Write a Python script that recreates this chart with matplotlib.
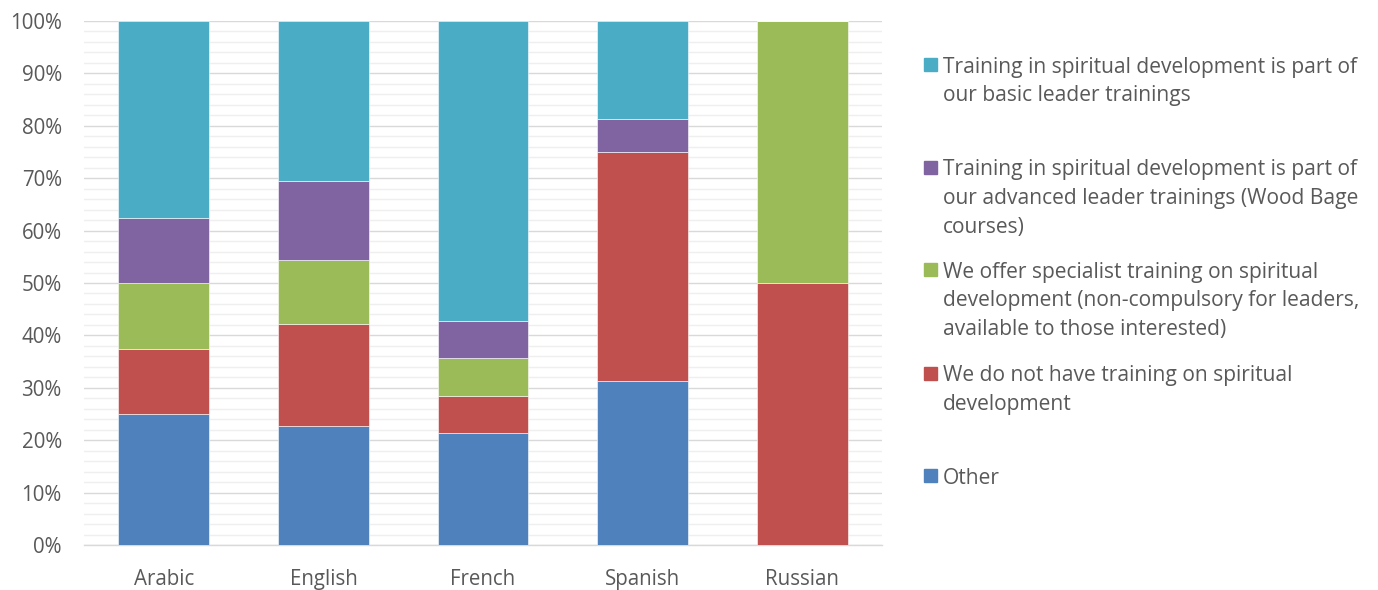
import matplotlib
matplotlib.use("Agg")
import matplotlib.pyplot as plt
from matplotlib.patches import Rectangle
import numpy as np

categories = ["Arabic", "English", "French", "Spanish", "Russian"]
series_names = [
    "Other",
    "We do not have training on spiritual\ndevelopment",
    "We offer specialist training on spiritual\ndevelopment (non-compulsory for leaders,\navailable to those interested)",
    "Training in spiritual development is part of\nour advanced leader trainings (Wood Bage\ncourses)",
    "Training in spiritual development is part of\nour basic leader trainings",
]
other = [25.0, 22.7, 21.4, 31.25, 0.0]
no_training = [12.5, 19.5, 7.1, 43.75, 50.0]
specialist = [12.5, 12.1, 7.1, 0.0, 50.0]
advanced = [12.5, 15.2, 7.2, 6.25, 0.0]
basic = [37.5, 30.5, 57.2, 18.75, 0.0]
colors = ["#4F81BD", "#C0504D", "#9BBB59", "#8064A2", "#4BACC6"]
yticks = [0, 10, 20, 30, 40, 50, 60, 70, 80, 90, 100]

FONT = ["Open Sans", "DejaVu Sans"]
TXT = "#595959"

W, H = 1378, 590
fig = plt.figure(figsize=(W / 100, H / 100), dpi=100)
ax = fig.add_axes([84 / W, 1 - 545 / H, (882 - 84) / W, (545 - 21) / H])

x = np.arange(len(categories))
series = [other, no_training, specialist, advanced, basic]
bottom = np.zeros(len(categories))
for vals, c in zip(series, colors):
    vals = np.array(vals)
    ax.bar(x, vals, bottom=bottom, width=0.57, color=c, edgecolor="white",
           linewidth=0.4, zorder=3)
    bottom += vals

ax.set_xlim(-0.5, len(categories) - 0.5)
ax.set_ylim(0, 100)
ax.set_yticks(yticks)
ax.set_yticklabels([f"{v}%" for v in yticks], fontsize=14.8, color=TXT, family=FONT)
ax.set_yticks(np.arange(0, 101, 2), minor=True)
ax.set_xticks(x)
ax.set_xticklabels(categories, fontsize=14.8, color=TXT, family=FONT)
ax.tick_params(axis="both", which="both", length=0)
ax.tick_params(axis="y", pad=16)
ax.tick_params(axis="x", pad=17.5)
ax.grid(axis="y", which="minor", color="#EFEFEF", linewidth=1.0, zorder=0)
ax.grid(axis="y", which="major", color="#D9D9D9", linewidth=1.0, zorder=1)
for s in ["top", "right", "left"]:
    ax.spines[s].set_visible(False)
ax.spines["bottom"].set_color("#D9D9D9")
ax.spines["bottom"].set_linewidth(1.0)

# Legend (Excel style: first lines evenly spaced, reversed order)
legend_top = [67, 170, 272, 376, 478]
line_h = 28.5
for i, (name, c) in enumerate(zip(series_names[::-1], colors[::-1])):
    y0 = legend_top[i]
    fig.patches.append(Rectangle((924 / W, 1 - (y0 + 4) / H), 13 / W, 13 / H,
                                 transform=fig.transFigure, color=c))
    for j, line in enumerate(name.split("\n")):
        fig.text(943 / W, 1 - (y0 + j * line_h) / H, line, fontsize=15.1,
                 color=TXT, family=FONT, va="center", ha="left")

fig.savefig("out.png", dpi=100)
